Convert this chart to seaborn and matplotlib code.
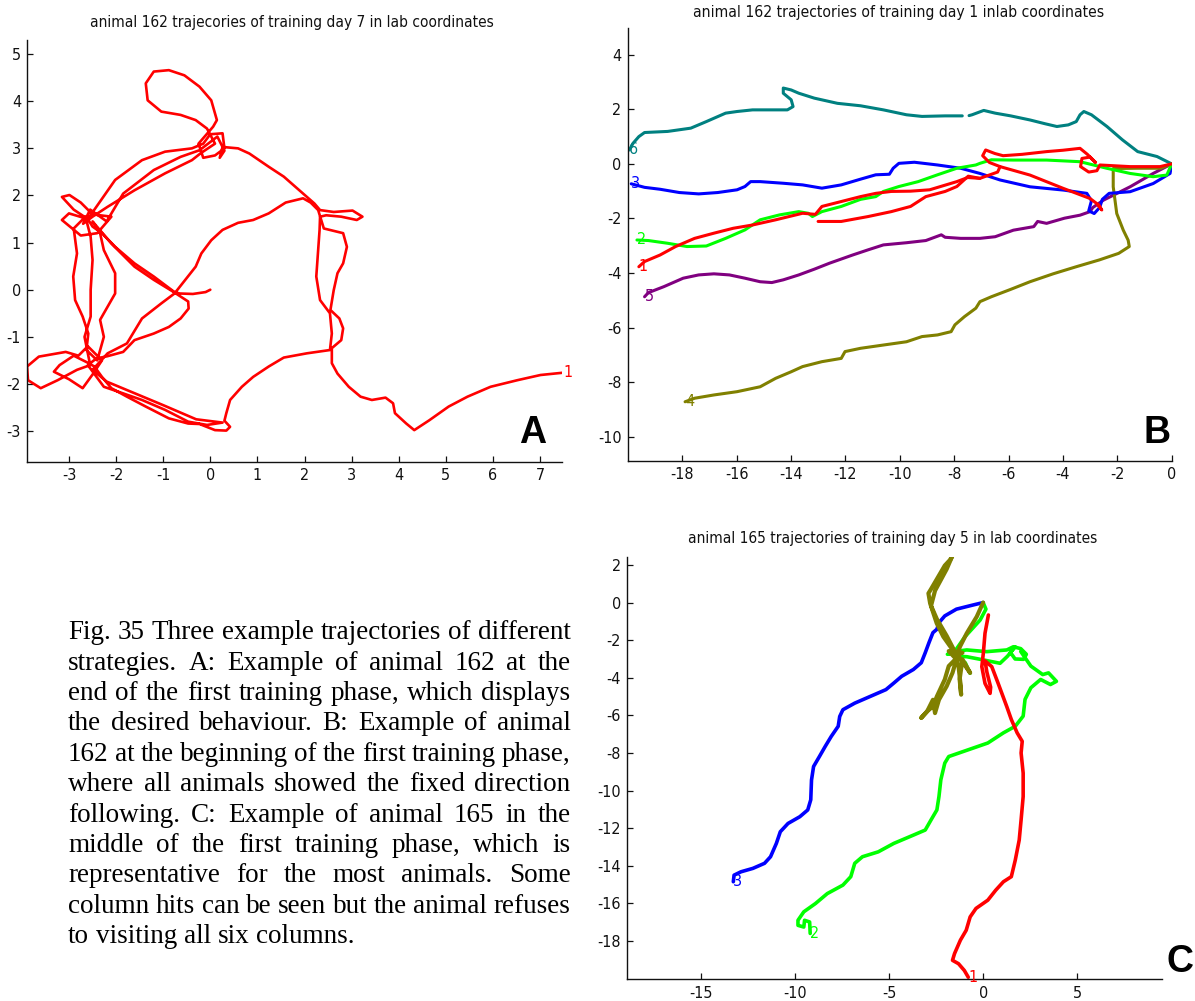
import numpy as np
import pandas as pd
import matplotlib
matplotlib.use("Agg")
import matplotlib.pyplot as plt
from matplotlib import font_manager as fm
import seaborn as sns

N = None  # gap in a recorded trace

# ---------------- Panel A: animal 162, day 7 ----------------
a1_x = [0.0,-0.1,-0.37,-0.65,-0.76,-1.2,-1.61,-2.02,-2.3,-2.5,
        -2.6,-2.9,-3.15,-2.99,-2.75,-2.5,-2.1,-2.4,-2.75,-3.15,-3.0,-2.6,
        -2.02,-1.45,-0.96,-0.39,-0.15,
        0.0,0.26,0.3,0.1,-0.15,-0.25,0.06,
        0.14,0.02,-0.23,-0.55,-0.88,-1.2,-1.37,-1.33,-1.04,-0.63,-0.31,-0.07,
        0.1,-0.2,
        -0.39,-0.96,-1.61,-2.18,-2.5,
        -2.7,-2.55,-2.2,
        -1.85,-1.2,-0.63,-0.23,
        0.15,0.3,0.2,
        0.26,0.59,0.83,1.24,1.56,1.97,2.21,2.33,
        2.62,3.02,3.23,3.11,2.78,2.46,2.33,
        2.32,2.28,2.25,2.33,2.54,2.58,2.54,
        2.05,1.56,1.24,0.91,0.67,0.42,0.34,0.3,0.42,0.34,0.1,-0.23,-0.47,
        -0.88,-1.37,-1.77,-2.1,-2.3,-2.46,
        -2.6,-2.9,-3.2,-3.32,-3.0,-2.71,-2.5,-2.3,-2.6,-2.8,
        -3.07,-3.64,-3.89,-3.87,-3.6,-3.24,-2.83,-2.55,
        -2.67,-2.54,-2.54,-2.5,-2.54,
        -2.65,-2.9,
        -2.83,-2.91,-2.87,-2.71,-2.59,-2.63,
        -2.4,
        -2.26,-2.34,-2.02,-2.02,-2.26,-2.34,
        -2.5,
        -2.1,-1.61,-1.2,-0.76,-0.47,-0.46,-0.63,-0.88,-1.2,-1.61,-1.85,-2.18,-2.42,
        -2.6,
        -2.26,-1.85,-1.45,-0.96,-0.47,-0.07,0.26,
        -0.3,-1.0,-1.6,-2.2,-2.5,
        -2.18,-1.77,-1.45,-1.04,-0.76,-0.31,-0.19,0.02,0.26,0.59,0.91,1.24,1.6,1.97,2.13,2.29,
        2.41,2.82,2.9,2.82,2.7,2.62,2.55,2.74,2.82,2.78,2.58,
        2.58,2.7,2.94,3.19,3.43,3.72,3.88,3.92,4.16,4.33,4.65,5.06,5.46,5.95,6.52,7.01,7.5]
a1_y = [0.0,-0.05,-0.09,-0.08,-0.05,0.28,0.56,0.91,1.2,1.34,
        1.5,1.7,1.97,2.01,1.85,1.6,1.55,1.2,1.15,1.48,1.62,1.5,
        2.33,2.75,2.93,3.0,3.1,
        3.3,3.32,3.0,2.85,2.8,3.1,3.46,
        3.6,4.02,4.31,4.55,4.66,4.63,4.38,4.02,3.78,3.71,3.6,3.42,
        3.1,2.9,
        2.75,2.47,2.11,1.76,1.55,
        1.4,1.7,1.45,
        2.04,2.54,2.82,2.96,
        3.25,2.95,2.8,
        3.03,3.0,2.89,2.61,2.4,2.04,1.83,1.69,
        1.65,1.68,1.55,1.48,1.55,1.58,1.55,
        1.27,0.7,0.28,-0.22,-0.5,-0.93,-1.28,
        -1.35,-1.44,-1.63,-1.85,-2.06,-2.34,-2.62,-2.78,-2.91,-2.99,-2.98,-2.85,-2.84,
        -2.73,-2.48,-2.27,-2.09,-1.85,-1.63,
        -1.55,-1.4,-1.6,-1.74,-1.9,-2.09,-1.8,-1.5,-1.2,-1.4,
        -1.32,-1.42,-1.63,-1.92,-2.09,-1.92,-1.7,-1.6,
        -1.0,-0.57,0.0,0.63,1.12,
        1.55,1.3,
        0.77,0.28,-0.22,-0.57,-0.93,-1.28,
        -1.5,
        -1.0,-0.64,-0.08,0.35,0.84,1.2,
        1.45,
        0.98,0.49,0.21,-0.06,-0.25,-0.4,-0.61,-0.79,-0.93,-1.07,-1.32,-1.41,-1.46,
        -1.6,
        -2.06,-2.2,-2.34,-2.55,-2.8,-2.87,-2.82,
        -2.75,-2.45,-2.2,-1.95,-1.7,
        -1.35,-1.14,-0.61,-0.29,-0.08,0.49,0.77,1.05,1.27,1.42,1.48,1.62,1.85,1.94,1.85,1.69,
        1.3,1.2,0.91,0.56,0.35,-0.01,-0.43,-0.61,-0.82,-1.07,-1.24,
        -1.56,-1.78,-2.06,-2.27,-2.34,-2.29,-2.41,-2.62,-2.84,-2.98,-2.77,-2.48,-2.27,-2.06,-1.92,-1.81,-1.76]

# ---------------- Panel B: animal 162, day 1 ----------------
b1_x = [0.0,-0.43,-1.53,-2.64,-2.75,-3.05,-3.35,-3.3,-3.0,-2.8,-3.1,-3.37,-4.0,-4.6,-5.5,-6.2,-6.5,-6.84,-6.95,-6.7,-6.31,
        -5.21,-3.98,-3.0,-2.76,-2.57,-2.68,N,
        -13.0,-12.15,-11.16,-10.31,-9.6,-9.04,-8.33,-7.9,-7.48,-7.05,N,
        -6.31,-6.4,-7.05,-7.5,-7.9,-8.9,-9.6,-10.31,-10.88,-11.44,-12.15,-12.86,-13.1,-13.57,-14.56,-15.41,-16.12,
        -16.83,-17.54,-18.24,-18.81,-19.38,-19.59]
b1_y = [0.0,-0.1,-0.1,-0.04,-0.25,-0.3,-0.1,0.2,0.25,0.05,0.35,0.57,0.5,0.45,0.35,0.3,0.38,0.51,0.3,0.05,-0.1,
        -0.41,-0.9,-1.27,-1.45,-1.69,-1.5,N,
        -2.11,-2.11,-1.93,-1.75,-1.56,-1.2,-1.01,-0.83,-0.45,-0.53,N,
        -0.1,-0.3,-0.53,-0.5,-0.65,-0.95,-1.0,-1.01,-1.08,-1.2,-1.38,-1.56,-1.85,-1.81,-2.05,-2.24,-2.36,
        -2.54,-2.73,-3.03,-3.34,-3.58,-3.77]
b2_x = [0.0,-0.18,-0.68,-1.53,-2.39,-3.37,-4.6,-5.82,-6.63,-7.05,-7.2,-7.9,-8.61,-9.32,-10.03,-10.6,-10.88,-11.44,
        -12.15,-12.86,-13.21,-13.36,-13.71,-14.42,-15.13,-15.69,-16.4,-17.11,-17.82,-18.53,-19.24,-19.66]
b2_y = [0.0,-0.41,-0.47,-0.35,-0.16,0.08,0.14,0.14,0.15,0.02,-0.04,-0.16,-0.4,-0.65,-0.83,-1.01,-1.2,-1.3,
        -1.56,-1.75,-1.93,-1.81,-1.75,-1.87,-2.05,-2.42,-2.73,-3.01,-3.03,-2.91,-2.81,-2.79]
b3_x = [0.0,-0.06,-0.68,-1.53,-2.3,-2.55,-2.65,-2.85,-3.05,-2.95,-3.12,-3.98,-5.21,-6.31,-7.05,-7.76,-8.61,-9.46,
        -10.03,-10.24,-10.38,-10.88,-11.44,-12.15,-12.86,-13.57,-14.28,-15.13,-15.48,-15.69,-15.98,-16.69,
        -17.39,-18.1,-18.81,-19.38,-19.87]
b3_y = [0.0,-0.35,-0.72,-1.02,-1.08,-1.3,-1.6,-1.82,-1.72,-1.35,-1.08,-0.96,-0.84,-0.59,-0.35,-0.16,-0.04,0.06,
        0.02,-0.16,-0.38,-0.4,-0.56,-0.77,-0.89,-0.77,-0.71,-0.65,-0.65,-0.83,-0.95,-1.05,
        -1.1,-1.05,-0.93,-0.86,-0.73]
b4_x = [0.0,-0.4,-1.25,-2.15,-2.15,-2.02,-1.78,-1.6,-1.56,-1.95,-2.66,-3.51,-4.36,-5.21,-5.92,-6.63,-7.05,-7.2,
        -7.62,-7.97,-8.11,-8.61,-9.18,-9.75,-10.6,-11.44,-12.01,-12.15,-12.86,-13.57,-13.99,-14.56,-15.13,
        -15.98,-16.83,-17.54,-17.89]
b4_y = [0.0,-0.16,-0.16,-0.17,-0.84,-1.82,-2.43,-2.8,-3.03,-3.28,-3.52,-3.77,-4.03,-4.32,-4.6,-4.87,-5.05,-5.29,
        -5.6,-5.9,-6.15,-6.27,-6.33,-6.52,-6.64,-6.76,-6.88,-7.13,-7.25,-7.43,-7.62,-7.86,-8.17,
        -8.35,-8.47,-8.59,-8.72]
b5_x = [0.0,-0.68,-1.53,-2.51,-2.9,-3.0,-3.37,-3.94,-4.6,-4.93,-5.07,-5.82,-6.49,-7.05,-7.76,-8.33,-8.47,-9.04,
        -9.75,-10.6,-11.16,-11.73,-12.58,-13.14,-13.71,-14.28,-14.7,-15.13,-15.69,-16.26,-16.83,-17.39,
        -17.96,-18.67,-19.24,-19.38]
b5_y = [0.0,-0.35,-0.84,-1.33,-1.6,-1.75,-1.88,-1.99,-2.18,-2.11,-2.3,-2.43,-2.67,-2.73,-2.73,-2.69,-2.6,-2.81,
        -2.89,-2.97,-3.15,-3.34,-3.64,-3.86,-4.07,-4.25,-4.35,-4.32,-4.19,-4.07,-4.03,-4.07,
        -4.19,-4.5,-4.72,-4.87]
b6_x = [0.0,-0.54,-1.25,-1.81,-2.38,-2.95,-3.23,-3.37,-3.51,-3.8,-4.22,-4.65,-5.21,-5.92,-6.49,-6.91,-7.34,-7.45,N,
        -7.7,-8.33,-9.18,-9.75,-10.6,-11.44,-12.29,-13.14,-13.71,-13.99,-14.28,-14.28,-13.99,-13.92,-14.13,
        -14.7,-15.41,-15.98,-16.4,-17.11,-17.68,-18.53,-19.38,-19.59,-19.8,-19.94]
b6_y = [0.0,0.27,0.45,0.88,1.37,1.8,1.92,1.8,1.55,1.43,1.37,1.47,1.61,1.76,1.86,1.96,1.8,1.77,N,
        1.76,1.76,1.74,1.8,1.98,2.13,2.22,2.41,2.59,2.71,2.78,2.59,2.35,2.1,1.98,
        1.98,1.98,1.92,1.86,1.55,1.31,1.19,1.15,1.0,0.76,0.51]

# ---------------- Panel C: animal 165, day 5 ----------------
c1_x = [0.28,0.1,0.01,-0.07,0.1,0.37,0.4,0.2,0.1,0.46,0.8,1.26,1.5,1.81,2.08,2.02,2.13,2.13,2.02,1.92,1.71,1.5,
        1.08,0.67,0.25,-0.38,-0.69,-0.9,-1.21,-1.52,-1.63,-1.31,-1.0,-0.79]
c1_y = [-0.66,-1.63,-2.7,-3.41,-4.3,-4.83,-4.5,-3.7,-3.1,-3.41,-4.3,-5.54,-6.22,-6.93,-7.38,-8.0,-9.07,-10.32,
        -11.56,-12.63,-13.7,-14.58,-14.85,-15.3,-15.83,-16.27,-16.72,-17.43,-17.96,-18.67,-19.03,-19.21,-19.57,-19.93]
c2_x = [0.0,0.15,-0.16,-0.96,-1.58,-1.9,-1.5,-0.87,0.19,1.26,1.61,2.0,2.3,2.15,1.7,1.45,1.7,1.3,0.9,0.01,-0.87,
        -1.5,-0.95,-0.7,N,
        2.0,2.54,3.17,3.48,3.9,3.58,3.06,2.54,2.23,2.13,1.71,1.08,0.25,-0.79,-1.83,-2.04,-2.25,-2.35,-2.46,
        -2.77,-3.08,-3.71,-4.75,-5.58,-6.42,-6.83,-7.04,-7.46,-8.29,-8.92,-9.54,-9.85,-9.85,-9.54,-9.5,-9.23,
        -9.2]
c2_y = [0.0,-0.35,-0.93,-1.81,-2.7,-2.75,-2.6,-2.52,-2.61,-2.52,-2.35,-2.45,-2.75,-3.02,-3.0,-2.65,-2.35,-2.85,
        -3.23,-3.05,-2.88,-2.85,-3.2,-3.76,N,
        -2.6,-3.38,-3.83,-3.74,-4.19,-4.36,-4.09,-4.53,-5.15,-6.04,-6.58,-6.93,-7.47,-7.83,-8.19,-8.54,-9.43,
        -10.32,-11.03,-11.56,-12.1,-12.37,-12.81,-13.26,-13.52,-13.87,-14.58,-15.03,-15.48,-16.01,-16.45,-16.9,
        -17.17,-17.26,-16.9,-16.99,-17.6]
c3_x = [0.0,-0.58,-1.42,-2.04,-2.35,-2.46,-2.67,-2.88,-3.08,-3.29,-3.71,-4.33,-4.75,-5.17,-6.0,-6.83,-7.46,-7.63,
        -7.71,-8.08,-8.4,-8.71,-9.02,-9.13,-9.17,-9.33,-9.75,-10.38,-10.79,-11.0,-11.31,-11.63,-12.25,-12.88,
        -13.25,-13.29]
c3_y = [0.0,-0.14,-0.35,-0.71,-1.07,-1.42,-1.6,-2.13,-2.67,-3.2,-3.56,-3.92,-4.28,-4.63,-4.99,-5.35,-5.7,-6.06,
        -6.58,-7.12,-7.65,-8.19,-8.72,-9.44,-10.49,-11.03,-11.39,-11.75,-12.19,-12.81,-13.52,-13.87,-14.14,-14.32,
        -14.5,-14.85]
c4_x = [0.0,-0.34,-0.87,-1.23,-1.4,-1.49,-2.12,-2.47,-2.82,-2.91,-2.77,-2.46,-2.04,-1.76,-1.63,-1.94,-2.56,-2.77,
        -2.46,-1.94,-1.52,-1.31,-1.21,-1.17,-1.25,-1.1,-0.69,-1.31,-1.83,-2.04,-2.46,-2.67,-2.98,-3.29,-2.98,
        -2.67,-2.56,-2.35,-1.94,-1.63,-1.42,-1.83,-1.1,-1.4]
c4_y = [0.0,-0.75,-1.63,-2.34,-2.79,-2.7,-1.81,-1.1,-0.04,0.49,0.72,1.25,1.97,2.27,2.5,1.78,0.63,-0.17,
        -0.88,-1.77,-2.58,-3.38,-4.27,-4.9,-4.09,-3.02,-3.74,-2.85,-3.38,-4.09,-4.99,-5.52,-5.79,-6.13,-5.79,
        -5.17,-5.88,-5.17,-4.45,-3.74,-3.02,-2.58,-2.67,-2.79]

# ticks and texts
a_xticks = [-3, -2, -1, 0, 1, 2, 3, 4, 5, 6, 7]
a_yticks = [-3, -2, -1, 0, 1, 2, 3, 4, 5]
b_xticks = [-18, -16, -14, -12, -10, -8, -6, -4, -2, 0]
b_yticks = [-10, -8, -6, -4, -2, 0, 2, 4]
c_xticks = [-15, -10, -5, 0, 5]
c_yticks = [-18, -16, -14, -12, -10, -8, -6, -4, -2, 0, 2]
title_a = "animal 162 trajecories of training day 7 in lab coordinates"
title_b = "animal 162 trajectories of training day 1 inlab coordinates"
title_c = "animal 165 trajectories of training day 5 in lab coordinates"
caption = ["Fig. 35 Three example trajectories of different",
           "strategies. A: Example of animal 162 at the",
           "end of the first training phase, which displays",
           "the desired behaviour. B:  Example of animal",
           "162 at the beginning of the first training phase,",
           "where all animals showed the fixed direction",
           "following. C: Example of animal 165 in the",
           "middle of the first training phase, which is",
           "representative for the most animals. Some",
           "column hits can be seen but the animal refuses",
           "to visiting all six columns."]

RED, GREEN, BLUE = "#ff0000", "#00ff00", "#0000ff"
OLIVE, PURPLE, TEAL = "#808000", "#800080", "#008080"

sns.set_style("white")
names = {f.name for f in fm.fontManager.ttflist}
if "Liberation Sans Narrow" in names:
    SANS, STRETCH = "Liberation Sans Narrow", "normal"
else:
    SANS, STRETCH = "DejaVu Sans", "condensed"
SERIF = "Liberation Serif"
plt.rcParams["font.family"] = [SANS, "DejaVu Sans"]
plt.rcParams["font.stretch"] = STRETCH
plt.rcParams["axes.unicode_minus"] = False

W, H = 1195, 1001
fig = plt.figure(figsize=(W / 100, H / 100), dpi=100)
fig.patch.set_facecolor("white")


def add_ax(l, r, t, b):
    return fig.add_axes([l / W, 1 - b / H, (r - l) / W, (b - t) / H])


def frame(xs, ys):
    rows, seg = [], 0
    for x, y in zip(xs, ys):
        if x is None:
            seg += 1
            continue
        rows.append((x, y, seg))
    return pd.DataFrame(rows, columns=["x", "y", "seg"])


def draw(ax, xs, ys, color, label=None, lw=2.0):
    df = frame(xs, ys)
    sns.lineplot(data=df, x="x", y="y", units="seg", estimator=None, sort=False,
                 color=color, lw=lw, ax=ax, legend=False)
    if label is not None:
        ax.text(df.x.iloc[-1], df.y.iloc[-1], label, color=color, fontsize=11.5,
                ha="left", va="center", clip_on=False)


def style(ax, xlim, ylim, xt, yt):
    ax.set_xlim(*xlim)
    ax.set_ylim(*ylim)
    ax.set_xticks(xt)
    ax.set_yticks(yt)
    ax.set_xlabel("")
    ax.set_ylabel("")
    for s in ["top", "right"]:
        ax.spines[s].set_visible(False)
    for s in ["left", "bottom"]:
        ax.spines[s].set_color("#111111")
        ax.spines[s].set_linewidth(1.0)
    ax.tick_params(direction="in", length=4, width=0.9, pad=4.5, labelsize=11.5,
                   colors="#111111", left=True, bottom=True)
    ax.set_facecolor("white")


axA = add_ax(27.3, 561.7, 40, 461.7)
draw(axA, a1_x, a1_y, RED, "1", lw=1.9)
style(axA, (-3.885, 7.46), (-3.65, 5.30), a_xticks, a_yticks)

axB = add_ax(627.7, 1171.7, 28.3, 460.7)
draw(axB, b6_x, b6_y, TEAL, "6", lw=2.2)
draw(axB, b5_x, b5_y, PURPLE, "5", lw=2.2)
draw(axB, b4_x, b4_y, OLIVE, "4", lw=2.2)
draw(axB, b3_x, b3_y, BLUE, "3", lw=2.2)
draw(axB, b2_x, b2_y, GREEN, "2", lw=2.2)
draw(axB, b1_x, b1_y, RED, "1", lw=2.2)
style(axB, (-20, 0), (-10.88, 4.97), b_xticks, b_yticks)

axC = add_ax(627.3, 1161.7, 556.7, 979.3)
draw(axC, c3_x, c3_y, BLUE, "3", lw=2.6)
draw(axC, c2_x, c2_y, GREEN, "2", lw=2.6)
draw(axC, c1_x, c1_y, RED, "1", lw=2.6)
draw(axC, c4_x, c4_y, OLIVE, None, lw=3.0)
style(axC, (-18.93, 9.5), (-20.04, 2.44), c_xticks, c_yticks)

renderer = fig.canvas.get_renderer()


def px_text(x, y, s, **kw):
    return fig.text(x / W, 1 - y / H, s, **kw)


def fit_width(t, target):
    w = t.get_window_extent(renderer).width
    t.set_fontsize(t.get_fontsize() * target / w)


for (cx, cy, s, wt) in [(292, 22.7, title_a, 404), (898.5, 12.7, title_b, 412),
                        (892.5, 538, title_c, 409)]:
    t = px_text(cx, cy, s, ha="center", va="center", fontsize=11, color="#111111")
    fit_width(t, wt)

for (cx, by, s) in [(532.5, 443, "A"), (1156.7, 443, "B"), (1180, 972, "C")]:
    px_text(cx, by, s, ha="center", va="baseline", fontsize=27, fontweight="bold",
            family="Liberation Sans", fontstretch="normal", color="black")

# caption, justified
X0, X1 = 68.1, 570.5
probe = px_text(0, 0, caption[0], fontsize=18, family=SERIF, fontstretch="normal")
fs_cap = 18 * (X1 - X0) / probe.get_window_extent(renderer).width
probe.remove()


def word_w(s):
    t = px_text(0, 0, s, fontsize=fs_cap, family=SERIF, fontstretch="normal")
    w = t.get_window_extent(renderer).width
    t.remove()
    return w


space_w = word_w("a a") - word_w("aa")
for i, line in enumerate(caption):
    yb = 639.3 + 30.4 * i
    words = line.split()
    widths = [word_w(w) for w in words]
    if i < len(caption) - 1 and len(words) > 1:
        gap = (X1 - X0 - sum(widths)) / (len(words) - 1)
    else:
        gap = space_w
    x = X0
    for w, ww in zip(words, widths):
        px_text(x, yb, w, fontsize=fs_cap, family=SERIF, fontstretch="normal",
                ha="left", va="baseline", color="black")
        x += ww + gap

fig.savefig("out.png", dpi=100, facecolor="white")
